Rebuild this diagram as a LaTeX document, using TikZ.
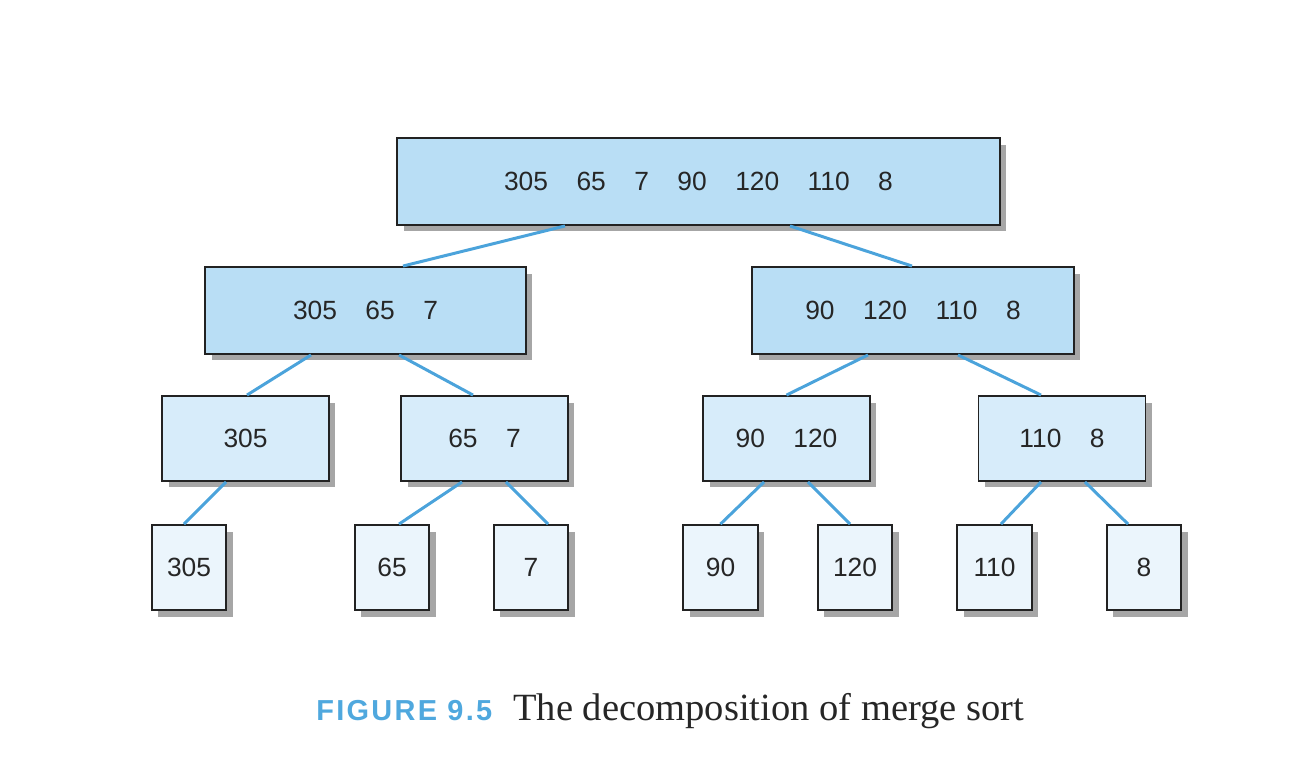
\documentclass[tikz,border=0pt]{standalone}
\usepackage{fontspec}
\setmainfont{Liberation Sans}
\newfontfamily\capserif{Liberation Serif}
\newfontfamily\capsans[LetterSpace=8]{Liberation Sans}
\usetikzlibrary{shadows}
\definecolor{fillA}{HTML}{B9DEF5}
\definecolor{fillB}{HTML}{D7ECFA}
\definecolor{fillC}{HTML}{EBF5FC}
\definecolor{linkblue}{HTML}{4BA3DB}
\definecolor{capblue}{HTML}{4FA8DE}
\definecolor{edgeblack}{HTML}{222222}
\newcommand\gp{\hspace{0.57cm}}
\begin{document}
\begin{tikzpicture}[x=0.02cm,y=-0.02cm,
  boxbase/.style={draw=edgeblack, line width=1.1pt, inner sep=0pt,
    font=\fontsize{15}{17}\selectfont, text=black!85,
    drop shadow={shadow xshift=0.13cm, shadow yshift=-0.13cm, fill=black!35, opacity=1}},
  bigbox/.style={boxbase, fill=fillA, minimum height=1.74cm},
  midbox/.style={boxbase, fill=fillB, minimum height=1.70cm, minimum width=3.34cm},
  leafbox/.style={boxbase, fill=fillC, minimum height=1.70cm, minimum width=1.49cm},
  link/.style={draw=linkblue, line width=1.7pt}]
\useasboundingbox (0,0) rectangle (1304,764);
% level 1
\node[bigbox, minimum width=12.06cm] (top) at (698.5,181.5) {305\gp 65\gp 7\gp 90\gp 120\gp 110\gp 8};
% level 2
\node[bigbox, minimum width=6.42cm] (L) at (365.5,310.5) {305\gp 65\gp 7};
\node[bigbox, minimum width=6.44cm] (R) at (913,310.5) {90\gp 120\gp 110\gp 8};
% level 3
\node[midbox] (A) at (245.5,438.5) {305};
\node[midbox] (B) at (484.5,438.5) {65\gp 7};
\node[midbox] (C) at (786.5,438.5) {90\gp 120};
\node[midbox] (D) at (1062,438.5) {110\gp 8};
% leaves
\node[leafbox] (l1) at (189,567.5) {305};
\node[leafbox] (l2) at (392,567.5) {65};
\node[leafbox] (l3) at (531,567.5) {7};
\node[leafbox] (l4) at (720.5,567.5) {90};
\node[leafbox] (l5) at (855,567.5) {120};
\node[leafbox] (l6) at (994.5,567.5) {110};
\node[leafbox] (l7) at (1144,567.5) {8};
% connectors
\draw[link] ([xshift=-2.67cm]top.south) -- ([xshift=0.75cm]L.north);
\draw[link] ([xshift=1.83cm]top.south) -- ([xshift=-0.02cm]R.north);
\draw[link] ([xshift=-1.09cm]L.south) -- ([xshift=0.03cm]A.north);
\draw[link] ([xshift=0.67cm]L.south) -- ([xshift=-0.23cm]B.north);
\draw[link] ([xshift=-0.9cm]R.south) -- (C.north);
\draw[link] ([xshift=0.9cm]R.south) -- ([xshift=-0.42cm]D.north);
\draw[link] ([xshift=-0.39cm]A.south) -- ([xshift=-0.1cm]l1.north);
\draw[link] ([xshift=-0.45cm]B.south) -- ([xshift=0.14cm]l2.north);
\draw[link] ([xshift=0.43cm]B.south) -- ([xshift=0.34cm]l3.north);
\draw[link] ([xshift=-0.45cm]C.south) -- (l4.north);
\draw[link] ([xshift=0.43cm]C.south) -- ([xshift=-0.1cm]l5.north);
\draw[link] ([xshift=-0.42cm]D.south) -- ([xshift=0.13cm]l6.north);
\draw[link] ([xshift=0.46cm]D.south) -- ([xshift=-0.32cm]l7.north);
% caption
\node[anchor=base west, inner sep=0pt, text=capblue] (capnum) at (316,720)
  {\resizebox{3.52cm}{!}{\capsans\bfseries FIGURE 9.5}};
\node[anchor=base west, inner sep=0pt, text=black!85] (captext) at (513,720)
  {\resizebox{10.22cm}{!}{\capserif The decomposition of merge sort}};
\end{tikzpicture}
\end{document}
